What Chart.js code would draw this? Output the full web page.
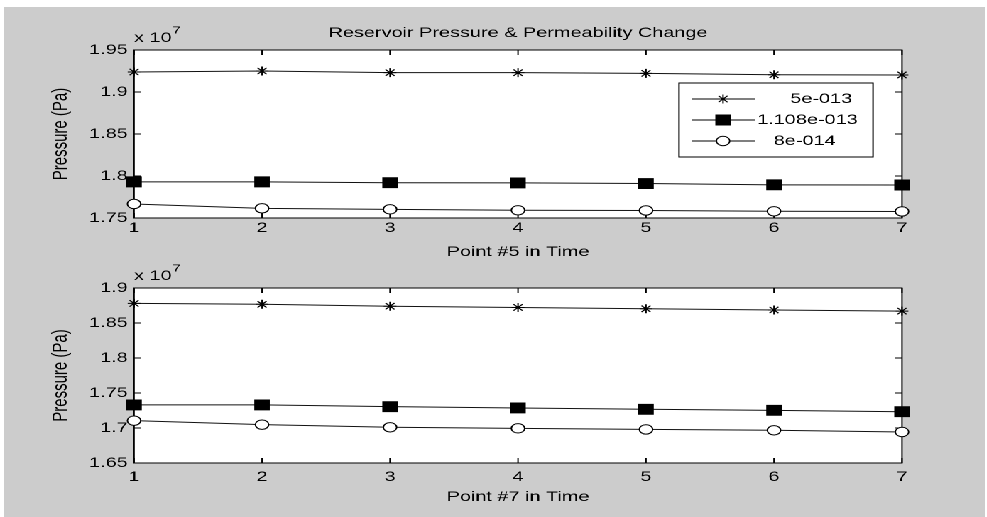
<!DOCTYPE html>
<html><head><meta charset="utf-8">
<script src="https://cdn.jsdelivr.net/npm/chart.js@4"></script>
<style>
html,body{margin:0;padding:0;background:#fff;overflow:hidden;}
#fig{position:absolute;left:4px;top:7px;width:981px;height:510px;background:#cccccc;}
#stage{position:absolute;left:0;top:0;width:695px;height:517px;transform:scaleX(1.42);transform-origin:0 0;}
#c1{position:absolute;left:0;top:0;}
#c2{position:absolute;left:0;top:264px;}
</style></head><body>
<div id="fig"></div>
<div id="stage"><canvas id="c1" width="695" height="264"></canvas><canvas id="c2" width="695" height="253"></canvas></div>
<script>
// ---- data ----
const timePoints = ['1','2','3','4','5','6','7'];
const seriesNames = ['5e-013', '1.108e-013', '8e-014'];
const legendLabels = ['      5e-013', '1.108e-013', '   8e-014'];
// Point #5 (Pa)
const p5_k1 = [19238000, 19250000, 19230000, 19230000, 19222000, 19205000, 19203000];
const p5_k2 = [17930000, 17930000, 17920000, 17918000, 17910000, 17895000, 17893000];
const p5_k3 = [17667000, 17615000, 17603000, 17592000, 17590000, 17580000, 17578000];
// Point #7 (Pa)
const p7_k1 = [18780000, 18767000, 18740000, 18722000, 18703000, 18686000, 18670000];
const p7_k2 = [17330000, 17330000, 17305000, 17286000, 17267000, 17252000, 17233000];
const p7_k3 = [17105000, 17048000, 17010000, 16995000, 16980000, 16967000, 16943000];
const yRange5 = [17500000, 19500000];
const yRange7 = [16500000, 19000000];
const yStep = 500000;
const titleText = 'Reservoir Pressure & Permeability Change';
const xTitle5 = 'Point #5 in Time';
const xTitle7 = 'Point #7 in Time';
const yTitle = 'Pressure (Pa)';

// ---- styles ----
const FONT = "'Liberation Sans', Arial, Helvetica, sans-serif";
const styles = [
  {pointStyle:'star', pointRadius:4.5, pointBorderColor:'#000', pointBackgroundColor:'#000', pointBorderWidth:1},
  {pointStyle:'rect', pointRadius:7, pointBorderColor:'#000', pointBackgroundColor:'#000', pointBorderWidth:1},
  {pointStyle:'circle', pointRadius:4.7, pointBorderColor:'#000', pointBackgroundColor:'#fff', pointBorderWidth:1}
];

const matlabPlugin = {
  id: 'matlab',
  beforeDraw(chart) {
    const {ctx, chartArea: a} = chart;
    ctx.save();
    ctx.fillStyle = '#fff';
    ctx.fillRect(a.left, a.top, a.right - a.left, a.bottom - a.top);
    ctx.restore();
  },
  beforeDatasetsDraw(chart) {
    const {ctx, chartArea: a, scales} = chart;
    ctx.save();
    ctx.strokeStyle = '#000';
    ctx.lineWidth = 1;
    ctx.strokeRect(a.left, a.top, a.right - a.left, a.bottom - a.top);
    const tl = 5;
    ctx.beginPath();
    scales.x.ticks.forEach((t, i) => {
      const px = scales.x.getPixelForTick(i);
      ctx.moveTo(px, a.bottom); ctx.lineTo(px, a.bottom - tl);
      ctx.moveTo(px, a.top); ctx.lineTo(px, a.top + tl);
    });
    scales.y.ticks.forEach(t => {
      const py = scales.y.getPixelForValue(t.value);
      ctx.moveTo(a.left, py); ctx.lineTo(a.left + tl, py);
      ctx.moveTo(a.right, py); ctx.lineTo(a.right - tl, py);
    });
    ctx.stroke();
    ctx.restore();
  },
  afterDraw(chart, args, opts) {
    const {ctx, chartArea: a} = chart;
    ctx.save();
    ctx.fillStyle = '#000';
    // exponent label
    ctx.font = '14px ' + FONT;
    ctx.textBaseline = 'middle';
    ctx.textAlign = 'left';
    ctx.fillText('x 10', a.left, a.top - 12);
    const w = ctx.measureText('x 10').width;
    ctx.font = '10.5px ' + FONT;
    ctx.fillText('7', a.left + w + 0.5, a.top - 19.5);
    if (opts.title) {
      ctx.font = '14px ' + FONT;
      ctx.textAlign = 'center';
      ctx.fillText(opts.title, (a.left + a.right) / 2, a.top - 17);
    }
    if (opts.legend) {
      const bx = a.right - 157, by = a.top + 33, bw = 136.6, bh = 74;
      ctx.fillStyle = '#fff';
      ctx.fillRect(bx, by, bw, bh);
      ctx.strokeStyle = '#000';
      ctx.lineWidth = 1;
      ctx.strokeRect(bx, by, bw, bh);
      const rows = [16, 37, 58];
      chart.data.datasets.forEach((ds, i) => {
        const y = by + rows[i];
        ctx.strokeStyle = '#000';
        ctx.lineWidth = 1;
        ctx.beginPath();
        ctx.moveTo(bx + 9, y); ctx.lineTo(bx + 53.5, y);
        ctx.stroke();
        ctx.fillStyle = ds.pointBackgroundColor;
        ctx.strokeStyle = ds.pointBorderColor;
        Chart.helpers.drawPoint(ctx, {pointStyle: ds.pointStyle, radius: ds.pointRadius, rotation: 0, borderWidth: 1}, bx + 31, y);
        ctx.fillStyle = '#000';
        ctx.font = '14px ' + FONT;
        ctx.textAlign = 'left';
        ctx.textBaseline = 'middle';
        ctx.fillText(opts.legend[i], bx + 55, y);
      });
    }
    ctx.restore();
  }
};

function makeChart(id, series, yr, cfg) {
  return new Chart(document.getElementById(id), {
    type: 'line',
    data: {
      labels: timePoints,
      datasets: series.map((vals, i) => Object.assign({
        label: seriesNames[i], data: vals, borderColor: '#111', borderWidth: 1,
        fill: false, tension: 0, clip: false
      }, styles[i]))
    },
    options: {
      responsive: false, animation: false, devicePixelRatio: 2,
      layout: {padding: {left: 0, right: cfg.padRight, top: cfg.padTop, bottom: 0}},
      plugins: {
        legend: {display: false}, tooltip: {enabled: false}, title: {display: false},
        matlab: {title: cfg.title, legend: cfg.legend}
      },
      scales: {
        x: {
          type: 'category', offset: false,
          grid: {display: false, drawTicks: false}, border: {display: false},
          ticks: {color: '#000', font: {family: FONT, size: 14, lineHeight: 1.2}, padding: cfg.xTickPad, maxRotation: 0, autoSkip: false},
          title: {display: true, text: cfg.xTitle, color: '#000', font: {family: FONT, size: 14, lineHeight: 1.2}, padding: {top: 0, bottom: cfg.xTitlePadB}},
          afterFit(s) { s.height = cfg.xAxisH; }
        },
        y: {
          min: yr[0], max: yr[1],
          grid: {display: false, drawTicks: false}, border: {display: false},
          ticks: {stepSize: yStep, color: '#000', font: {family: FONT, size: 14, lineHeight: 1.2}, padding: 4.5,
                  callback: v => String(+(v / 1e7).toFixed(2))},
          title: {display: true, text: yTitle, color: '#000', font: {family: FONT, size: 15, lineHeight: 1.2}, padding: {top: 34, bottom: 0}},
          afterFit(s) { s.width = 94.4; }
        }
      }
    },
    plugins: [matlabPlugin]
  });
}

makeChart('c1', [p5_k1, p5_k2, p5_k3], yRange5, {
  padRight: 59.8, padTop: 50, xAxisH: 46, xTickPad: 1.6, xTitlePadB: 3.6,
  xTitle: xTitle5, title: titleText, legend: legendLabels
});
makeChart('c2', [p7_k1, p7_k2, p7_k3], yRange7, {
  padRight: 59.8, padTop: 24, xAxisH: 54, xTickPad: 5.6, xTitlePadB: 11.6,
  xTitle: xTitle7, title: null, legend: null
});
</script>
</body></html>
